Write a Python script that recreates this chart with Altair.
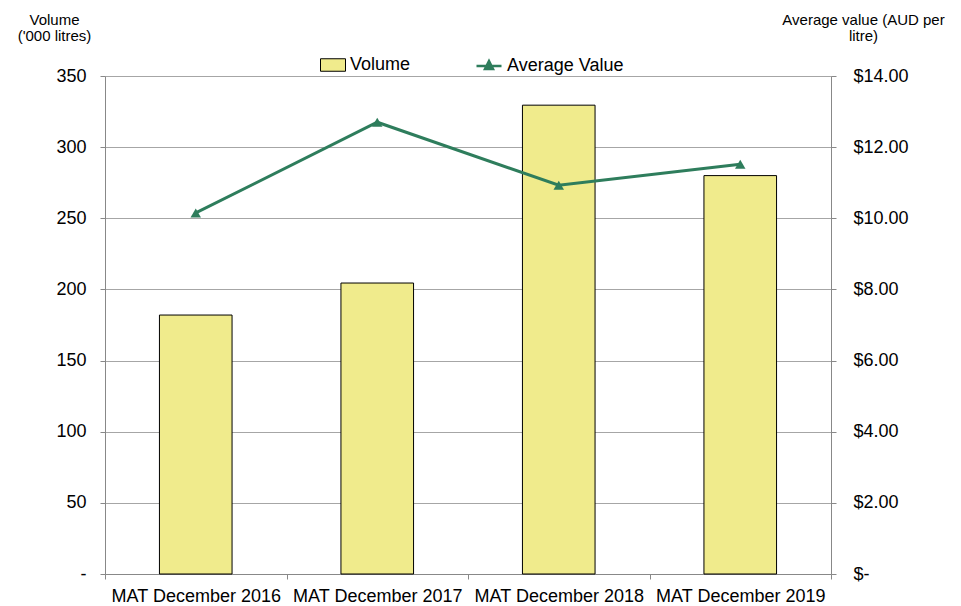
import altair as alt
import pandas as pd

periods = ["MAT December 2016", "MAT December 2017", "MAT December 2018", "MAT December 2019"]
volume = [182, 204.5, 329.5, 280]
avg_value = [10.15, 12.7, 10.93, 11.52]

df = pd.DataFrame({
    "period": periods,
    "volume": volume,
    "avg": avg_value,
    "s1": ["Volume"] * 4,
    "s2": ["Average Value"] * 4,
})

FONT = "Liberation Sans"
GREEN = "#2E7D5C"
YELLOW = "#F0EB8C"
AXISGRAY = "#888888"
LFS = 18

x = alt.X("period:N", sort=periods, title=None,
          scale=alt.Scale(paddingInner=0, paddingOuter=0),
          axis=alt.Axis(labelAngle=0, tickBand="extent", labelFontSize=LFS, labelColor="black",
                        labelPadding=8, domainColor=AXISGRAY, tickColor=AXISGRAY, tickSize=5,
                        labelFont=FONT, grid=False))

bars = alt.Chart(df).mark_bar(width=alt.RelativeBandSize(0.4), stroke="black", strokeWidth=1).encode(
    x=x,
    y=alt.Y("volume:Q", scale=alt.Scale(domain=[0, 350], nice=False),
            axis=alt.Axis(values=[0, 50, 100, 150, 200, 250, 300, 350], grid=True, gridColor="#A6A6A6",
                          labelExpr="datum.value == 0 ? '-\u00a0\u00a0' : datum.label",
                          labelFontSize=LFS, labelFont=FONT, labelColor="black", labelPadding=14,
                          domainColor=AXISGRAY, tickColor=AXISGRAY, tickSize=5,
                          title=["Volume", "('000 litres)"], titleAngle=0, titleX=-51, titleY=-52,
                          titleAlign="center", titleBaseline="alphabetic", titleFontSize=15,
                          titleFontWeight="normal", titleFont=FONT, titleLineHeight=16)),
    fill=alt.Fill("s1:N", scale=alt.Scale(domain=["Volume"], range=[YELLOW]),
                  legend=alt.Legend(title=None, orient="none", legendX=215, legendY=-24,
                                    symbolType="M-1,-0.5H1V0.5H-1Z", symbolSize=625,
                                    symbolStrokeColor="black", symbolStrokeWidth=1,
                                    labelFontSize=LFS, labelFont=FONT, labelColor="black", labelOffset=4)),
)

yr = alt.Y("avg:Q", scale=alt.Scale(domain=[0, 14], nice=False),
           axis=alt.Axis(orient="right", values=[0, 2, 4, 6, 8, 10, 12, 14], grid=False,
                         labelExpr="datum.value == 0 ? '$-' : '$' + format(datum.value, '.2f')",
                         labelFontSize=LFS, labelFont=FONT, labelColor="black", labelPadding=17,
                         domainColor=AXISGRAY, tickColor=AXISGRAY, tickSize=5,
                         title=["Average value (AUD per", "litre)"], titleAngle=0, titleX=32, titleY=-52,
                         titleAlign="center", titleBaseline="alphabetic", titleFontSize=15,
                         titleFontWeight="normal", titleFont=FONT, titleLineHeight=16))

line = alt.Chart(df).mark_line(strokeWidth=3).encode(
    x=x,
    y=yr,
    stroke=alt.Stroke("s2:N", scale=alt.Scale(domain=["Average Value"], range=[GREEN]),
                      legend=alt.Legend(title=None, orient="none", legendX=370, legendY=-24,
                                        symbolType="M-1,0H1M0,-0.4L0.32,0.24L-0.32,0.24Z", symbolSize=625,
                                        symbolFillColor=GREEN, symbolStrokeWidth=2.5,
                                        labelFontSize=LFS, labelFont=FONT, labelColor="black", labelOffset=4)),
)

points = alt.Chart(df).mark_point(shape="triangle-up", filled=True, size=110, color=GREEN, opacity=1).encode(
    x=x,
    y=yr,
)

right = alt.layer(line, points)

chart = alt.layer(bars, right).resolve_scale(y="independent", fill="independent", stroke="independent").properties(
    width=726, height=498,
    autosize=alt.AutoSizeParams(type="none"),
    padding={"left": 97, "top": 68, "right": 122, "bottom": 30},
).configure_view(stroke=None).configure(font=FONT)

chart.save("out.html", embed_options={"renderer": "svg", "actions": False})
